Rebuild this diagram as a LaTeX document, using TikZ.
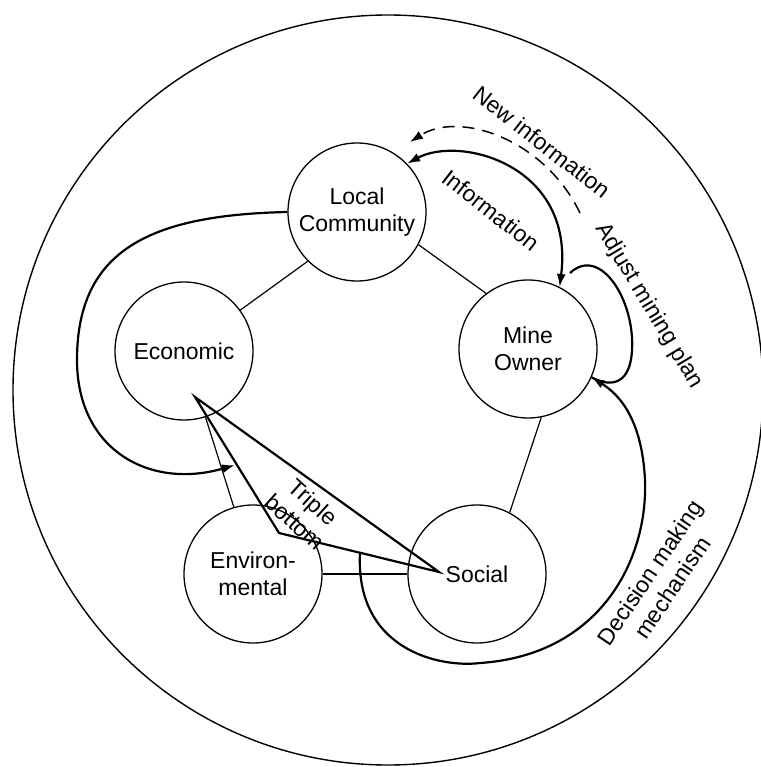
\documentclass[tikz,border=0pt]{standalone}
\usepackage{fontspec}
\setmainfont{Liberation Sans}
\usetikzlibrary{arrows.meta}
\begin{document}
\begin{tikzpicture}[x=1pt,y=1pt,
  ent/.style={draw, circle, minimum size=138pt, inner sep=0pt, line width=1.3pt, align=center, font=\fontsize{23}{27}\selectfont},
  conn/.style={line width=1.2pt},
  flow/.style={line width=2.2pt},
  tipend/.style={-{Latex[length=13pt,width=9pt]}},
  tipboth/.style={{Latex[length=13pt,width=9pt]}-{Latex[length=13pt,width=9pt]}},
  lbl/.style={align=center, font=\fontsize{23}{27}\selectfont, inner sep=0pt},
]
\useasboundingbox (0,0) rectangle (760,-767);
\node[draw, circle, minimum size=750pt, inner sep=0pt, line width=1.4pt] (frame) at (388,-390) {};

\node[ent] (lc) at (357,-212) {Local\\Community};
\node[ent] (econ) at (184,-351) {Economic};
\node[ent] (mine) at (528,-349) {Mine\\Owner};
\node[ent] (social) at (477,-574) {Social};
\node[ent] (env) at (253,-574) {Environ-\\mental};

% plain connectors
\draw[conn] (lc.-135) -- (econ.36);
\draw[conn] (lc.-28) -- (mine.127);
\draw[conn] (mine.-79) -- (social.62);
\draw[conn] (env.0) -- (social.180);
\draw[conn] (econ.-72) -- (env.106);

% triple bottom
\coordinate (t1) at (195,-397);
\coordinate (t2) at (279,-533);
\coordinate (t3) at (439,-572);
\draw[flow, line join=miter] (t1) -- (t2) -- (t3) -- cycle;
\node[lbl, rotate=-42] (tbl) at (304,-512) {Triple\\bottom};

% local community -> economic loop
\coordinate (econin) at (235,-465);
\draw[flow, tipend] (lc.180) .. controls (150,-215) and (77,-250) .. (77,-360)
  .. controls (77,-450) and (150,-490) .. (econin);

% information
\draw[flow, tipboth] (lc.44) .. controls (460,-135) and (575,-165) .. (mine.63);
\node[lbl, rotate=-38] (infol) at (491,-210) {Information};

% new information (dashed)
\coordinate (nis) at (580,-213);
\coordinate (nie) at (410,-142);
\draw[line width=1.5pt, dash pattern=on 12pt off 8pt, tipend] (nis) .. controls (545,-140) and (460,-110) .. (nie);
\node[lbl, rotate=-38] (newl) at (542,-142) {New information};

% adjust mining plan loop
\coordinate (ads) at (570,-273);
\draw[flow] (ads) .. controls (600,-245) and (635,-300) .. (632,-350)
  .. controls (630,-390) and (605,-385) .. (mine.-24);
\node[lbl, rotate=-59] (adjl) at (649,-306) {Adjust mining plan};

% decision making mechanism
\coordinate (dms) at (360,-553);
\draw[flow, tipend] (dms) .. controls (355,-650) and (440,-668) .. (480,-663)
  .. controls (600,-655) and (648,-560) .. (645,-480)
  .. controls (642,-420) and (620,-395) .. (mine.-24);
\node[lbl, rotate=56] (decl) at (661,-580) {Decision making\\mechanism};
\end{tikzpicture}
\end{document}
